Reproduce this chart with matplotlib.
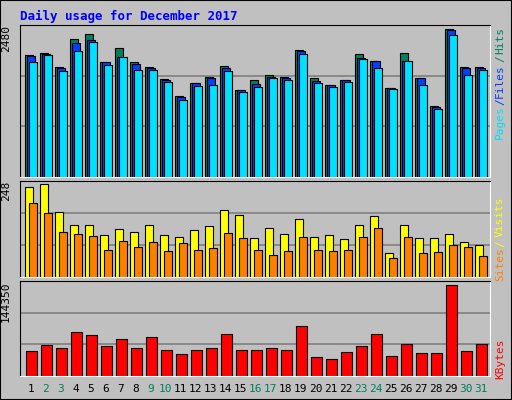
import matplotlib
matplotlib.use("Agg")
import matplotlib.pyplot as plt
from matplotlib.patches import Rectangle
import numpy as np

days = list(range(1, 32))
weekend = [2, 3, 9, 10, 16, 17, 23, 24, 30, 31]
hits = [1993, 2026, 1796, 2256, 2338, 1878, 2108, 1878, 1796, 1599, 1319, 1533, 1632, 1812, 1418,
        1582, 1664, 1632, 2075, 1615, 1500, 1582, 2009, 1894, 1451, 2026, 1615, 1155, 2420, 1796, 1796]
files = [1976, 2015, 1779, 2190, 2239, 1878, 1960, 1845, 1779, 1582, 1303, 1533, 1615, 1779, 1418,
         1517, 1632, 1615, 2059, 1566, 1500, 1582, 1944, 1894, 1451, 1894, 1615, 1139, 2404, 1779, 1779]
pages = [1878, 1993, 1730, 2059, 2206, 1829, 1960, 1747, 1747, 1549, 1254, 1484, 1500, 1730, 1385,
         1467, 1615, 1582, 2009, 1533, 1467, 1549, 1927, 1779, 1434, 1894, 1500, 1106, 2321, 1664, 1747]
visits = [233, 241, 168, 134, 134, 108, 124, 116, 134, 108, 103, 121, 131, 173, 160,
          100, 126, 110, 150, 103, 108, 97, 134, 157, 61, 134, 100, 100, 110, 90, 82]
sites = [191, 165, 116, 110, 105, 71, 92, 77, 90, 66, 87, 69, 74, 113, 100,
         71, 58, 66, 103, 69, 66, 69, 103, 126, 50, 103, 61, 64, 82, 77, 53]
kb_px = [76, 94, 85, 133, 124, 91, 112, 85, 118, 79, 67, 79, 85, 127, 79, 79, 85, 79, 151, 58, 52,
         73, 91, 127, 61, 97, 70, 70, 274, 76, 97]
kbytes = [v * 506.5 for v in kb_px]
max_hits, max_visits, max_kb = 2480, 248, 144350

W, H = 512, 400
fig = plt.figure(figsize=(W / 100, H / 100), dpi=100, facecolor="#C0C0C0")
fig.add_artist(Rectangle((0, 0), 1, 1, transform=fig.transFigure, fill=False, ec="black", lw=1.5))
mono = "DejaVu Sans Mono"

def ax_px(x0, y0, x1, y1):
    return fig.add_axes([x0 / W, 1 - y1 / H, (x1 - x0) / W, (y1 - y0) / H])

def style(ax, ymax, label):
    ax.set_facecolor("#C0C0C0")
    ax.set_xlim(0.28, 31.61)
    ax.set_ylim(0, ymax * 1.0)
    ax.set_xticks([]); ax.set_yticks([])
    for y in (ymax / 3, 2 * ymax / 3):
        ax.axhline(y, color="#808080", lw=1.2, zorder=0)
    for s in ("top", "left"):
        ax.spines[s].set_color("black")
    for s in ("bottom", "right"):
        ax.spines[s].set_color("white")
    ax.text(-0.03, 1.0, label, transform=ax.transAxes, rotation=90, va="top", ha="center",
            family=mono, fontsize=8)

d = np.array(days, dtype=float)
ax1 = ax_px(20, 25, 490, 177)
style(ax1, max_hits, "2480")
bw = 0.51
ax1.bar(d - 0.387, hits, bw, align="edge", color="#00805C", ec="black", lw=0.8)
ax1.bar(d - 0.233, files, bw, align="edge", color="#0040FF", ec="black", lw=0.8)
ax1.bar(d - 0.12, pages, bw, align="edge", color="#00E0FF", ec="black", lw=0.8)

ax2 = ax_px(20, 181, 490, 277)
style(ax2, max_visits, "248")
ax2.bar(d - 0.387, visits, 0.55, align="edge", color="#FFFF00", ec="black", lw=0.8)
ax2.bar(d - 0.1, sites, 0.5, align="edge", color="#FF8000", ec="black", lw=0.8)

ax3 = ax_px(20, 281, 490, 376)
style(ax3, max_kb, "144350")
ax3.bar(d - 0.32, kbytes, 0.71, align="edge", color="#FF0000", ec="black", lw=0.8)

for dd in days:
    xpx = 30.8 + 15 * (dd - 1)
    fig.text(xpx / W, 1 - 389 / H, str(dd), ha="center", va="center", family=mono, fontsize=8,
             color="#00805C" if dd in weekend else "black")

fig.text(20 / W, 1 - 16 / H, "Daily usage for December 2017", color="#0000FF", family=mono,
         fontsize=9, fontweight="bold", va="center")

def rlab(txt, yc, col):
    fig.text(500 / W, 1 - yc / H, txt, rotation=90, ha="center", va="center", family=mono,
             fontsize=8, color=col)

rlab("Hits", 40, "#00805C"); rlab("/", 59, "#00805C"); rlab("Files", 81, "#0040FF")
rlab("/", 102, "#0040FF"); rlab("Pages", 122, "#00E0FF")
rlab("Visits", 217, "#FFFF00"); rlab("/", 244, "#FFFF00"); rlab("Sites", 264, "#FF8000")
rlab("KBytes", 359, "#FF0000")

fig.savefig("out.png", dpi=100, facecolor=fig.get_facecolor())
